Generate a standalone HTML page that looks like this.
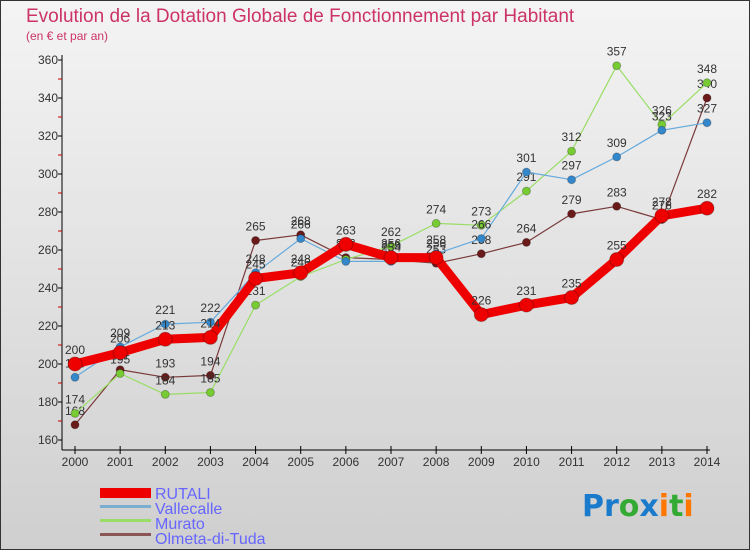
<!DOCTYPE html>
<html><head><meta charset="utf-8"><style>
body{margin:0;width:750px;height:550px;overflow:hidden;font-family:"Liberation Sans",sans-serif}
</style></head><body>
<svg width="750" height="550" xmlns="http://www.w3.org/2000/svg" font-family="Liberation Sans, sans-serif">
<defs><linearGradient id="bg" x1="0" y1="0" x2="0" y2="1"><stop offset="0" stop-color="#f4f4f4"/><stop offset="1" stop-color="#cfcfcf"/></linearGradient></defs>
<rect x="0.5" y="0.5" width="749" height="549" fill="url(#bg)" stroke="#333"/>
<text x="26" y="22" font-size="19" fill="#cc3366">Evolution de la Dotation Globale de Fonctionnement par Habitant</text>
<text x="26" y="40" font-size="12" fill="#cc3366">(en € et par an)</text>
<g id="axes"></g><g id="series"></g>
<g font-size="16" fill="#6666ff">
<rect x="100" y="488" width="51" height="10" fill="#ee0000"/><text x="155" y="499">RUTALI</text>
<rect x="100" y="505" width="51" height="3" fill="#7aaed0"/><text x="155" y="514">Vallecalle</text>
<rect x="100" y="519" width="51" height="3" fill="#99dd66"/><text x="155" y="529">Murato</text>
<rect x="100" y="533" width="51" height="3" fill="#8a5555"/><text x="155" y="544">Olmeta-di-Tuda</text>
</g>
<g font-size="30" font-weight="bold" font-family="DejaVu Sans, sans-serif">
<text x="582" y="516"><tspan fill="#1a7acc">Pr</tspan><tspan fill="#33aa33">o</tspan><tspan fill="#1a7acc">x</tspan><tspan fill="#ff7700">i</tspan><tspan fill="#33aa33">t</tspan><tspan fill="#ff7700">i</tspan></text>
</g>
</svg>
<script>
const years=["2000","2001","2002","2003","2004","2005","2006","2007","2008","2009","2010","2011","2012","2013","2014"];
const yTicks=[160,180,200,220,240,260,280,300,320,340,360];
const rutali=[200,206,213,214,245,248,263,256,256,226,231,235,255,278,282];
const vallecalle=[193,209,221,222,248,266,254,254,258,266,301,297,309,323,327];
const murato=[174,195,184,185,231,246,255,262,274,273,291,312,357,326,348];
const olmeta=[168,197,193,194,265,268,256,255,253,258,264,279,283,276,340];
const NS="http://www.w3.org/2000/svg";
const X=i=>75+i*(707-75)/14, Y=v=>440-(v-160)*1.9;
function mk(t,a,p){const e=document.createElementNS(NS,t);for(const k in a)e.setAttribute(k,a[k]);p.appendChild(e);return e;}
const ax=document.getElementById('axes');
let yl=mk('line',{x1:62,y1:55,x2:62,y2:450,stroke:'#000'},ax);


let xl=mk('line',{x1:62,y1:450,x2:710,y2:450,stroke:'#000'},ax);


yTicks.forEach(v=>{const t=mk('text',{x:58,y:Y(v)+4,'text-anchor':'end','font-size':12,fill:'#333'},ax);t.textContent=v;


mk('line',{x1:58,y1:Y(v),x2:62,y2:Y(v),stroke:'#000'},ax);
if(v<360)mk('line',{x1:58,y1:Y(v+10),x2:62,y2:Y(v+10),stroke:'#c00'},ax);});
years.forEach((y,i)=>{mk('line',{x1:X(i),y1:446,x2:X(i),y2:454,stroke:'#000'},ax);
const t=mk('text',{x:X(i),y:466,'text-anchor':'middle','font-size':12,fill:'#333'},ax);t.textContent=y;

});
const sg=document.getElementById('series');
function draw(d,name,col,w,r,fillc){const g=mk('g',{},sg);


mk('polyline',{points:d.map((v,i)=>X(i)+','+Y(v)).join(' '),fill:'none',stroke:col,'stroke-width':w,'stroke-linejoin':'round'},g);
d.forEach((v,i)=>{const c=mk('circle',{cx:X(i),cy:Y(v),r:r,fill:fillc,stroke:'rgba(0,0,0,0.25)'},g);


const t=mk('text',{x:X(i),y:Y(v)-10,'text-anchor':'middle','font-size':12,fill:'#333'},g);t.textContent=v;

});}
draw(olmeta,'olmeta','#7a3a3a',1.2,4,'#6b1a1a');
draw(murato,'murato','#99dd66',1.2,4,'#77cc33');
draw(vallecalle,'vallecalle','#66aadd',1.2,4,'#3388cc');
draw(rutali,'rutali','#ee0000',9,7,'#ee0000');
</script>
</body></html>
